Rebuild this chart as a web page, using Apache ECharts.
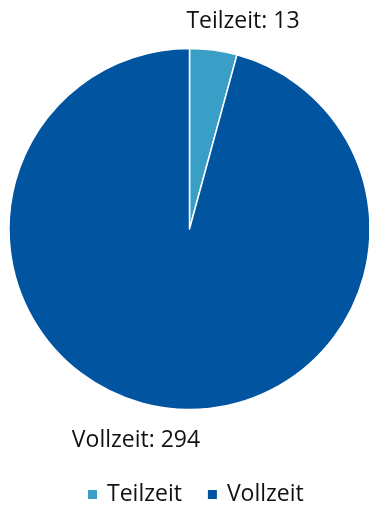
<!DOCTYPE html>
<html><head><meta charset="utf-8">
<script src="https://cdn.jsdelivr.net/npm/echarts@6/dist/echarts.min.js"></script>
<style>html,body{margin:0;padding:0;background:#fff}#c{width:369px;height:509px}</style>
</head><body><div id="c"></div>
<script>
const categories = ['Teilzeit', 'Vollzeit'];
const values = [13, 294];
const colors = ['#3A9FC6', '#0054A0'];
const labelPos = [[243, 21], [136, 440]];

const chart = echarts.init(document.getElementById('c'), null, {renderer: 'canvas'});
chart.setOption({
  animation: false,
  color: colors,
  legend: {
    top: 483, left: 86, padding: 0,
    itemWidth: 11, itemHeight: 11, itemGap: 24, icon: 'rect',
    textStyle: {fontFamily: 'Open Sans', fontSize: 23, color: '#111', padding: [0, 0, 0, 4]},
    data: categories
  },
  series: [{
    type: 'pie',
    center: [189.5, 229],
    radius: 180.5,
    startAngle: 90,
    clockwise: true,
    itemStyle: {borderColor: '#fff', borderWidth: 1.5},
    label: {
      show: true, position: 'outside', overflow: 'none',
      formatter: '{b}: {c}',
      fontFamily: 'Open Sans', fontSize: 23, color: '#111'
    },
    labelLine: {show: false},
    labelLayout: function (p) {
      const pos = labelPos[p.dataIndex];
      return {x: pos[0], y: pos[1], align: 'center', verticalAlign: 'middle'};
    },
    data: categories.map((n, i) => ({name: n, value: values[i]}))
  }]
});
</script></body></html>
